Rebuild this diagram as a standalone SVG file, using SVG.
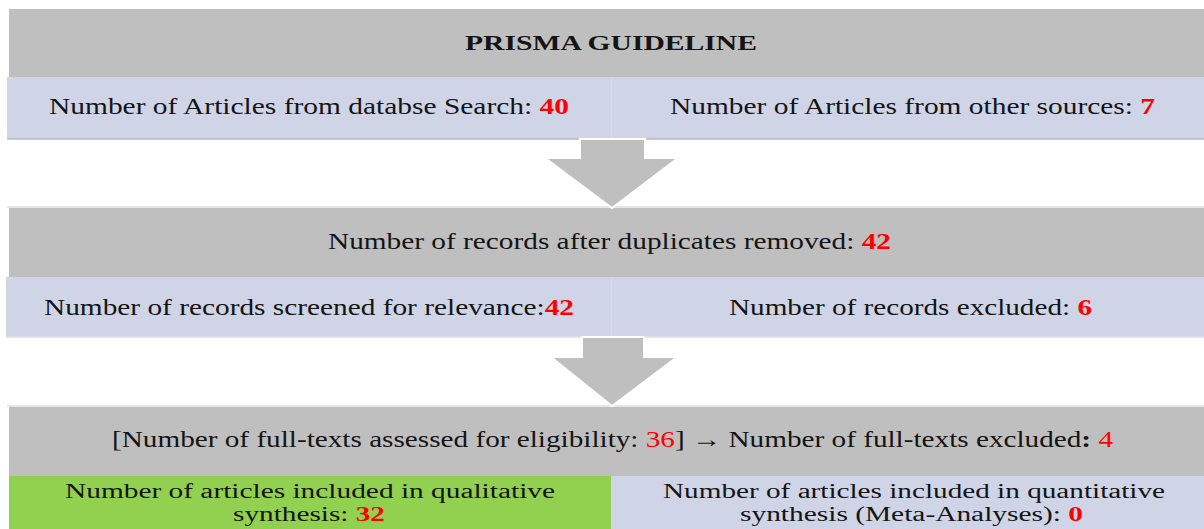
<svg xmlns="http://www.w3.org/2000/svg" width="1204" height="529" viewBox="0 0 1204 529">
  <style>
    .gray { fill: #bfbfbf; }
    .blue { fill: #cfd4e6; }
    .green { fill: #92d050; }
    .rule { stroke: #e6e6e6; stroke-width: 2; }
    .edge { stroke: #b4b8c8; stroke-width: 1.5; }
    .edge2 { stroke: #dde0ec; stroke-width: 1.5; }
    .split { stroke: #d6daea; stroke-width: 1; }
    .arrow { fill: #bfbfbf; stroke: #ffffff; stroke-width: 2; }
    .t { font-family: "Liberation Serif", "Times New Roman", serif; font-size: 24px; fill: #141414; }
    .s { font-size: 20px; }
    .title { font-weight: bold; font-size: 22px; }
    .num { fill: #ff0000; font-weight: bold; }
    .numr { fill: #ff0000; }
    .b { font-weight: bold; }
  </style>
  <rect width="1204" height="529" fill="#ffffff"/>

  <!-- stage 1: identification -->
  <g id="title">
    <rect class="gray" x="9" y="9" width="1195" height="68"/>
    <text class="t title" x="465" y="50" textLength="292" lengthAdjust="spacingAndGlyphs">PRISMA GUIDELINE</text>
  </g>
  <g id="database-search">
    <rect class="blue" x="7" y="77" width="604" height="62"/>
    <text class="t" x="49" y="114" textLength="520" lengthAdjust="spacingAndGlyphs">Number of Articles from databse Search: <tspan class="num">40</tspan></text>
  </g>
  <g id="other-sources">
    <rect class="blue" x="611" y="77" width="593" height="62"/>
    <text class="t" x="670" y="114" textLength="485" lengthAdjust="spacingAndGlyphs">Number of Articles from other sources: <tspan class="num">7</tspan></text>
  </g>
  <line class="split" x1="611.5" y1="78" x2="611.5" y2="138"/>
  <line class="edge" x1="7" y1="139" x2="1204" y2="139"/>

  <!-- stage 2: screening -->
  <line class="rule" x1="7" y1="207" x2="1204" y2="207"/>
  <g id="duplicates-removed">
    <rect class="gray" x="9" y="208" width="1195" height="69"/>
    <text class="t" x="328" y="249" textLength="563" lengthAdjust="spacingAndGlyphs">Number of records after duplicates removed: <tspan class="num">42</tspan></text>
  </g>
  <g id="screened">
    <rect class="blue" x="6" y="277" width="605" height="60"/>
    <text class="t" x="44" y="315" textLength="530" lengthAdjust="spacingAndGlyphs">Number of records screened for relevance:<tspan class="num">42</tspan></text>
  </g>
  <g id="excluded">
    <rect class="blue" x="611" y="277" width="593" height="60"/>
    <text class="t" x="729" y="315" textLength="363" lengthAdjust="spacingAndGlyphs">Number of records excluded: <tspan class="num">6</tspan></text>
  </g>
  <line class="split" x1="611.5" y1="278" x2="611.5" y2="336"/>
  <line class="edge2" x1="6" y1="337" x2="1204" y2="337"/>

  <!-- stage 3: eligibility and inclusion -->
  <line class="rule" x1="7" y1="406" x2="1204" y2="406"/>
  <g id="eligibility">
    <rect class="gray" x="9" y="407" width="1195" height="69"/>
    <text class="t" x="112" y="447" textLength="1001" lengthAdjust="spacingAndGlyphs">[Number of full-texts assessed for eligibility:  <tspan class="numr">36</tspan>] → Number of full-texts excluded<tspan class="b">:</tspan> <tspan class="numr">4</tspan></text>
  </g>
  <g id="qualitative">
    <rect class="green" x="9" y="476" width="602" height="53"/>
    <text class="t s" x="65" y="498" textLength="490" lengthAdjust="spacingAndGlyphs">Number of articles included in qualitative</text>
    <text class="t s" x="233" y="521" textLength="152" lengthAdjust="spacingAndGlyphs">synthesis: <tspan class="num">32</tspan></text>
  </g>
  <g id="quantitative">
    <rect class="blue" x="611" y="476" width="593" height="53"/>
    <text class="t s" x="663" y="498" textLength="502" lengthAdjust="spacingAndGlyphs">Number of articles included in quantitative</text>
    <text class="t s" x="740" y="521" textLength="343" lengthAdjust="spacingAndGlyphs">synthesis (Meta-Analyses): <tspan class="num">0</tspan></text>
  </g>

  <!-- flow arrows between stages -->
  <g id="connectors">
    <path class="arrow" d="M580,139 L645,139 L645,158 L678,158 L612,208 L545,158 L580,158 Z"/>
    <path class="arrow" d="M582,337 L644,337 L644,357 L677,357 L612,406 L551,357 L582,357 Z"/>
  </g>
</svg>
